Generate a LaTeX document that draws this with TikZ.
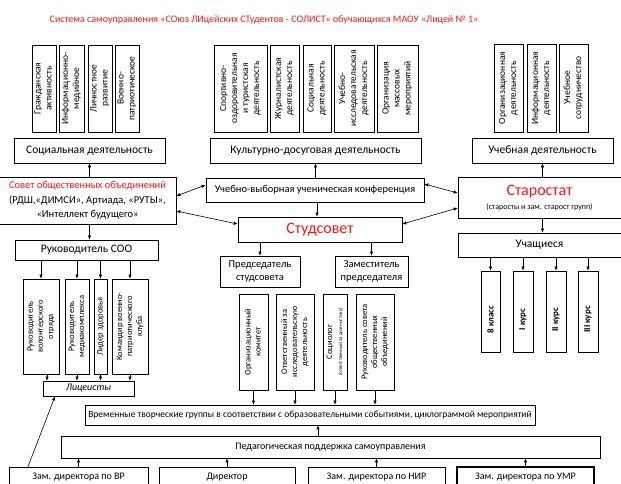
\documentclass[tikz,border=0pt]{standalone}
\usepackage{fontspec}
\setmainfont{Carlito}
\usepackage{graphicx}
\usetikzlibrary{arrows.meta}
\definecolor{tred}{HTML}{FF1414}
\tikzset{
 box/.style={draw=black, line width=0.7pt, inner sep=0pt, align=center, font=\fontsize{11.5}{13}\selectfont, text=black},
 vbox/.style={box, font=\fontsize{9.5}{11}\selectfont},
 sbox/.style={box, font=\fontsize{8.5}{10}\selectfont},
 arr/.style={-{Latex[length=4pt,width=3.5pt]}, line width=0.6pt},
 darr/.style={{Latex[length=4pt,width=3.5pt]}-{Latex[length=4pt,width=3.5pt]}, line width=0.6pt},
}
\newcommand\bx[7][]{\node[box,#1,minimum width={(#5)-(#3)},minimum height={(#6)-(#4)}] (#2) at ({((#3)+(#5))/2},{((#4)+(#6))/2}) {#7};}
\newcommand\rt[1]{\rotatebox{90}{\begin{tabular}{@{}c@{}}#1\end{tabular}}}
\begin{document}
\begin{tikzpicture}[x=1pt,y=-1pt]
\useasboundingbox (0,0) rectangle (621,484);
% title
\node[text=tred, font=\fontsize{10}{12}\selectfont] (title) at (264,20) {Система самоуправления «СОюз ЛИцейских СТудентов - СОЛИСТ» обучающихся МАОУ «Лицей № 1»};
% top vertical boxes
\bx[vbox]{L1}{32}{45}{56}{132}{\rt{Гражданская\\активность}}
\bx[vbox]{L2}{59}{45}{84}{132}{\rt{Информационно-\\медийное}}
\bx[vbox]{L3}{88}{45}{112}{132}{\rt{Личностное\\развитие}}
\bx[vbox]{L4}{115}{45}{139}{132}{\rt{Военно-\\патриотическое}}
\bx[vbox]{M1}{214}{45}{267}{132}{\rt{Спортивно-\\оздоровительная\\и туристская\\деятельность}}
\bx[vbox]{M2}{270}{45}{299}{132}{\rt{Журналистская\\деятельность}}
\bx[vbox]{M3}{303}{45}{331}{132}{\rt{Социальная\\деятельность}}
\bx[vbox]{M4}{334}{45}{374}{132}{\rt{Учебно-\\исследовательская\\деятельность}}
\bx[vbox]{M5}{377}{45}{418}{132}{\rt{Организация\\массовых\\мероприятий}}
\bx[vbox]{R1}{494}{44}{523}{132}{\rt{Организационная\\деятельность}}
\bx[vbox]{R2}{527}{44}{556}{132}{\rt{Информационная\\деятельность}}
\bx[vbox]{R3}{559}{44}{588}{132}{\rt{Учебное\\сотрудничество}}
% category boxes
\bx{soc}{14}{138}{165}{163}{Социальная деятельность}
\bx{kult}{210}{138}{421}{163}{Культурно-досуговая деятельность}
\bx{ucheb}{472}{138}{613}{163}{Учебная деятельность}
% central row
\bx[font=\fontsize{10.5}{14.5}\selectfont]{sovet}{-1}{177}{176}{224}{{\color{tred}Совет общественных объединений}\\(РДШ,«ДИМСИ», Артиада, «РУТЫ»,\\«Интеллект будущего»}
\bx[font=\fontsize{10.5}{12}\selectfont]{uvk}{206}{178}{424}{202}{Учебно-выборная ученическая конференция}
\bx{star}{458}{177}{621}{218}{{\fontsize{16}{18}\selectfont\color{tred}Старостат}\\[1pt]{\fontsize{8}{9}\selectfont(старосты и зам. старост групп)}}
\bx[font=\fontsize{16}{18}\selectfont, text=tred]{studs}{238}{217}{402}{242}{Студсовет}
\bx{ruk}{15}{240}{158}{260}{Руководитель СОО}
\bx[font=\fontsize{10.5}{13}\selectfont]{pred}{220}{256}{300}{287}{Председатель\\студсовета}
\bx[font=\fontsize{10.5}{13}\selectfont]{zam}{335}{256}{408}{287}{Заместитель\\председателя}
\bx{uch}{458}{233}{621}{257}{Учащиеся}
% classes
\bx{c1}{481}{271}{500}{352}{}
\bx{c2}{513}{271}{533}{352}{}
\bx{c3}{546}{271}{566}{352}{}
\bx{c4}{578}{271}{598}{352}{}
\node[rotate=90, font=\fontsize{9}{10}\selectfont\bfseries] (t1) at ([yshift=-8pt]c1.center) {8 класс};
\node[rotate=90, font=\fontsize{9}{10}\selectfont\bfseries] (t2) at ([yshift=-8pt]c2.center) {I курс};
\node[rotate=90, font=\fontsize{9}{10}\selectfont\bfseries] (t3) at ([yshift=-8pt]c3.center) {II курс};
\node[rotate=90, font=\fontsize{9}{10}\selectfont\bfseries] (t4) at ([yshift=-8pt]c4.center) {III курс};
% left bottom
\bx[sbox]{lb1}{23}{279}{59}{374}{\rt{Руководитель\\волонтерского\\отряда}}
\bx[sbox]{lb2}{65}{279}{89}{374}{\rt{Руководитель\\медиакомплекса}}
\bx[sbox]{lb3}{94}{279}{107}{374}{\rt{Лидер здоровья}}
\bx[sbox]{lb4}{112}{279}{148}{374}{\rt{Командир военно-\\патриотического\\клуба}}
\bx[font=\fontsize{10}{12}\selectfont\itshape]{licei}{43}{381}{134}{396}{Лицеисты}
% middle lower
\bx[sbox]{mb1}{239}{294}{268}{390}{\rt{Организационный\\комитет}}
\bx[sbox]{mb2}{276}{294}{314}{390}{\rt{Ответственный за\\исследовательскую\\деятельность}}
\bx[sbox]{mb3}{323}{294}{347}{390}{\rt{Социолог\\{\fontsize{5}{6}\selectfont(ответственный за диагностику)}}}
\bx[sbox]{mb4}{356}{294}{394}{390}{\rt{Руководитель совета\\общественных\\объединений}}
% bottom
\bx[font=\fontsize{9.5}{11}\selectfont]{vrem}{85}{405}{535}{425}{Временные творческие группы в соответствии с образовательными событиями, циклограммой мероприятий}
\bx[font=\fontsize{10}{12}\selectfont]{ped}{61}{436}{600}{458}{Педагогическая поддержка самоуправления}
\bx[font=\fontsize{10}{12}\selectfont]{d1}{9}{467}{148}{488}{Зам. директора по ВР}
\bx[font=\fontsize{10}{12}\selectfont]{d2}{159}{467}{295}{488}{Директор}
\bx[font=\fontsize{10}{12}\selectfont]{d3}{308}{467}{445}{488}{Зам. директора по НИР}
\bx[font=\fontsize{10}{12}\selectfont, line width=1.1pt]{d4}{457}{467}{594}{488}{Зам. директора по УМР}
% connectors
\draw[arr] (soc.south |- sovet.north) -- (soc.south);
\draw[arr] (kult.south |- uvk.north) -- (kult.south);
\draw[arr] (ucheb.south |- star.north) -- (ucheb.south);
\draw[darr] ([yshift=4.5pt]sovet.east) -- ([yshift=5pt]uvk.west);
\draw[darr] ([yshift=-10.5pt]sovet.east) -- ([yshift=5.5pt]studs.west);
\draw[darr] ([yshift=6pt]uvk.east) -- ([yshift=4.5pt]star.west);
\draw[darr] ([yshift=5.5pt]studs.east) -- ([yshift=-10.5pt]star.west);
\draw[arr] ([xshift=2pt]uvk.south) -- ([xshift=2pt]uvk.south |- studs.north);
\draw[arr] (soc.south |- sovet.south) -- (soc.south |- ruk.north);
\draw[arr] (pred.north |- studs.south) -- (pred.north);
\draw[arr] (zam.north |- studs.south) -- (zam.north);
\draw[arr] (ucheb.south |- star.south) -- (ucheb.south |- uch.north);
\foreach \c in {c1,c2,c3,c4} \draw[arr] (\c.north |- uch.south) -- (\c.north);
\foreach \c in {lb1,lb2,lb3,lb4} \draw[arr] (\c.north |- ruk.south) -- (\c.north);
\draw[arr] ([xshift=6pt]lb1.south) -- ([xshift=6pt]lb1.south |- licei.north);
\foreach \c in {lb2,lb3,lb4} \draw[arr] (\c.south) -- (\c.south |- licei.north);
\foreach \c in {mb1,mb2,mb3,mb4} \draw[arr] (\c.south) -- (\c.south |- vrem.north);
\draw[arr] ([xshift=-12.5pt]ped.north) -- ([xshift=-12.5pt]ped.north |- vrem.south);
\foreach \c in {d1,d2,d3,d4} \draw[arr] (\c.north) -- (\c.north |- ped.south);
\draw[arr] ([xshift=-50.5pt]d1.north) -- ([xshift=-33.5pt]licei.south);
\end{tikzpicture}
\end{document}
